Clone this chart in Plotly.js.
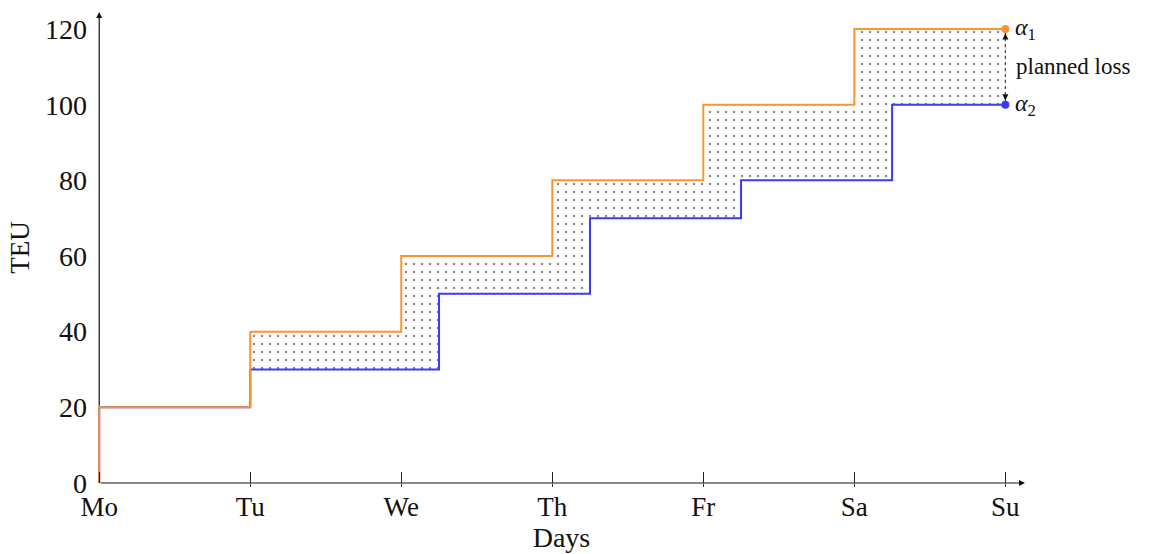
<!DOCTYPE html>
<html><head><meta charset="utf-8">
<script src="https://cdn.plot.ly/plotly-3.0.1.min.js"></script>
<style>html,body{margin:0;padding:0;background:#fff}#chart{width:1153px;height:554px}</style>
</head><body><div id="chart"></div>
<script>
const days = ['Mo','Tu','We','Th','Fr','Sa','Su'];
const yTicks = [0,20,40,60,80,100,120];
// planned (orange) step series: x positions (day index) and TEU values
const plannedX = [0,0,1,2,3,4,5,6];
const plannedY = [0,20,40,60,80,100,120,120];
// actual (blue) step series
const actualX = [0,0,1,2.25,3.25,4.25,5.25,6];
const actualY = [0,20,30,50,70,80,100,100];
const alpha1 = 120, alpha2 = 100;

const orange = '#F7962E', blue = '#3A3AF7';
const serif = 'Liberation Serif, DejaVu Serif, serif';
const xMin = -0.008, xMax = 6.13, yMax = 124.5;

const traces = [
  {x: actualX, y: actualY, mode:'lines', line:{shape:'hv', color:blue, width:2}, hoverinfo:'skip'},
  {x: plannedX, y: plannedY, mode:'lines', line:{shape:'hv', color:orange, width:2},
   fill:'tonexty', fillcolor:'rgba(0,0,0,0)',
   fillpattern:{shape:'.', size:8, solidity:0.09, fgcolor:'#8f8f8f', bgcolor:'rgba(0,0,0,0)'}, hoverinfo:'skip'},
  {x:[6], y:[alpha1], mode:'markers', marker:{color:orange, size:8}, hoverinfo:'skip'},
  {x:[6], y:[alpha2], mode:'markers', marker:{color:blue, size:8}, hoverinfo:'skip'},
  {x:[0,6], y:[0,0], xaxis:'x2', mode:'lines', line:{width:0}, hoverinfo:'skip', showlegend:false}
];

const layout = {
  width:1153, height:554, showlegend:false,
  paper_bgcolor:'white', plot_bgcolor:'white',
  margin:{l:98, r:128, t:12, b:71},
  font:{family:serif, color:'#111', size:28},
  xaxis:{range:[xMin,xMax], tickvals:[0,1,2,3,4,5,6], ticktext:days, showgrid:false, zeroline:false,
         ticks:'inside', ticklen:11, tickwidth:1, tickcolor:'#222', showline:false,
         ticklabelstandoff:5,
         tickfont:{size:27, family:serif}, title:{text:'Days', font:{size:28, family:serif}, standoff:5}},
  xaxis2:{range:[xMin,xMax], overlaying:'x', side:'bottom', tickvals:[1,2,3,4,5,6], ticks:'outside', ticklen:3,
          tickwidth:1, tickcolor:'#222', showticklabels:false, showgrid:false, zeroline:false, showline:false},
  yaxis:{range:[0,yMax], tickvals:yTicks, showgrid:false, zeroline:false, ticks:'', showline:false,
         ticklabelstandoff:10, tickfont:{size:28, family:serif},
         title:{text:'TEU', font:{size:27, family:serif}, standoff:7}},
  shapes:[
    {type:'line', xref:'x', yref:'y', x0:6, x1:6, y0:alpha2+1, y1:alpha1-1, line:{color:'#444', width:1.2, dash:'dot'}},
    {type:'line', xref:'x', yref:'y', x0:0, x1:0, y0:0, y1:20, layer:'below', line:{color:'#111', width:1.2}}
  ],
  annotations:[
    {x:xMax, y:0, ax:0, ay:0, axref:'x', ayref:'y', xref:'x', yref:'y', text:'', showarrow:true,
     arrowhead:2, arrowsize:1, arrowwidth:1.2, arrowcolor:'#111'},
    {x:0, y:yMax, ax:0, ay:20, axref:'x', ayref:'y', xref:'x', yref:'y', text:'', showarrow:true,
     arrowhead:2, arrowsize:1, arrowwidth:1.2, arrowcolor:'#111'},
    {x:6, y:alpha1-1.2, ax:0, ay:7, xref:'x', yref:'y', text:'', showarrow:true,
     arrowhead:2, arrowsize:1, arrowwidth:1.2, arrowcolor:'#111'},
    {x:6, y:alpha2+1.2, ax:0, ay:-7, xref:'x', yref:'y', text:'', showarrow:true,
     arrowhead:2, arrowsize:1, arrowwidth:1.2, arrowcolor:'#111'},
    {x:6, y:alpha1, xref:'x', yref:'y', text:'<i>α</i><sub>1</sub>', showarrow:false, xanchor:'left', xshift:8,
     font:{size:24, family:serif}},
    {x:6, y:alpha2, xref:'x', yref:'y', text:'<i>α</i><sub>2</sub>', showarrow:false, xanchor:'left', xshift:8,
     font:{size:24, family:serif}},
    {x:6, y:(alpha1+alpha2)/2, xref:'x', yref:'y', text:'planned loss', showarrow:false, xanchor:'left', xshift:9,
     font:{size:23, family:serif}}
  ]
};
Plotly.newPlot('chart', traces, layout, {displayModeBar:false, staticPlot:true});
</script></body></html>
